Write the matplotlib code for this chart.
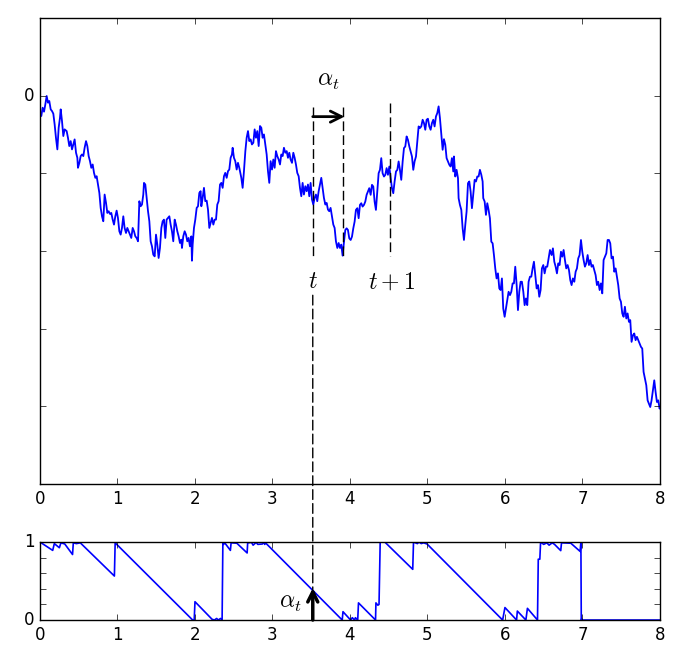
import matplotlib
matplotlib.use("Agg")
import matplotlib.pyplot as plt
from matplotlib.patches import ConnectionPatch

plt.style.use('classic')

# path
path_x = [0.0, 0.017, 0.034, 0.052, 0.069, 0.086, 0.103, 0.120, 0.138, 0.155, 0.172,
          0.189, 0.206, 0.224, 0.241, 0.258, 0.267, 0.284, 0.301, 0.318, 0.344,
          0.361, 0.378, 0.396, 0.413, 0.430, 0.447, 0.465, 0.482, 0.490, 0.508,
          0.525, 0.542, 0.559, 0.576, 0.594, 0.611, 0.628, 0.645, 0.662, 0.680,
          0.697, 0.714, 0.731, 0.748, 0.766, 0.783, 0.800, 0.817, 0.834, 0.852,
          0.869, 0.886, 0.903, 0.920, 0.938, 0.955, 0.972, 0.989, 1.006, 1.024,
          1.041, 1.058, 1.075, 1.092, 1.110, 1.127, 1.144, 1.161, 1.178, 1.196,
          1.213, 1.230, 1.247, 1.265, 1.282, 1.299, 1.316, 1.333, 1.342,
          1.359, 1.376, 1.394, 1.411, 1.428, 1.445, 1.462, 1.480, 1.497, 1.514,
          1.531, 1.548, 1.566, 1.583, 1.600, 1.617, 1.634, 1.652, 1.669, 1.686,
          1.703, 1.720, 1.738, 1.755, 1.772, 1.789, 1.806, 1.824, 1.832, 1.849,
          1.867, 1.884, 1.901, 1.918, 1.935, 1.953, 1.961, 1.970, 1.987, 2.004,
          2.022, 2.039, 2.056, 2.073, 2.082, 2.099, 2.116, 2.133, 2.151, 2.168,
          2.185, 2.202, 2.219, 2.237, 2.254, 2.271, 2.288, 2.305, 2.323, 2.340,
          2.357, 2.374, 2.391, 2.409, 2.426, 2.443, 2.460, 2.477, 2.486, 2.503,
          2.520, 2.538, 2.555, 2.572,
          2.598, 2.615, 2.632, 2.650, 2.667, 2.684, 2.701, 2.718, 2.735, 2.753,
          2.770, 2.787, 2.804, 2.822, 2.839, 2.856, 2.873, 2.890, 2.908, 2.925,
          2.942, 2.959, 2.976, 2.994, 3.011, 3.028, 3.045, 3.062, 3.080, 3.097,
          3.114, 3.131, 3.148, 3.166, 3.183, 3.200, 3.217, 3.234, 3.252, 3.269,
          3.286, 3.303, 3.320, 3.338, 3.355, 3.372, 3.389, 3.406, 3.424, 3.441,
          3.458, 3.475, 3.492, 3.510, 3.527, 3.544, 3.561, 3.578, 3.596, 3.613,
          3.630, 3.647, 3.664, 3.682, 3.699, 3.716, 3.733, 3.750, 3.768, 3.785,
          3.802, 3.819, 3.837, 3.854, 3.871, 3.888, 3.905,
          3.923, 3.940, 3.957, 3.974, 3.991, 4.009, 4.026, 4.043, 4.060, 4.077,
          4.095, 4.112, 4.129, 4.146, 4.163, 4.181, 4.198, 4.215, 4.232, 4.249,
          4.267, 4.284, 4.301, 4.318, 4.335, 4.353, 4.370, 4.387, 4.404, 4.421,
          4.439, 4.456, 4.473, 4.490, 4.508, 4.525, 4.542, 4.559, 4.576, 4.594,
          4.611, 4.628, 4.645, 4.662, 4.680, 4.697, 4.714, 4.731, 4.748, 4.766,
          4.783, 4.800, 4.817, 4.834, 4.852, 4.869, 4.886, 4.903, 4.920, 4.938,
          4.955, 4.972, 4.989, 5.006, 5.024, 5.041, 5.058, 5.075, 5.092, 5.110,
          5.127, 5.144, 5.161, 5.178, 5.196, 5.213,
          5.230, 5.247, 5.264, 5.282, 5.299, 5.316, 5.333, 5.342, 5.359, 5.376,
          5.394, 5.402, 5.419, 5.437, 5.454, 5.471, 5.488, 5.505, 5.523, 5.540,
          5.557, 5.574, 5.591, 5.609, 5.626, 5.643, 5.660, 5.677, 5.695, 5.712,
          5.720, 5.738, 5.755, 5.772, 5.789, 5.806, 5.824, 5.841, 5.858, 5.875,
          5.892, 5.910, 5.927, 5.944, 5.961, 5.978, 5.996, 6.013, 6.030, 6.047,
          6.065, 6.082, 6.099, 6.116, 6.133, 6.151, 6.168, 6.185, 6.202, 6.219,
          6.237, 6.254, 6.271, 6.288, 6.305, 6.323, 6.340, 6.357, 6.374, 6.391,
          6.409, 6.426, 6.443, 6.460, 6.477, 6.495, 6.512, 6.529, 6.546, 6.563,
          6.581,
          6.602, 6.619, 6.637, 6.654, 6.671, 6.688, 6.705, 6.723, 6.740, 6.757,
          6.774, 6.791, 6.809, 6.826, 6.843, 6.860, 6.877, 6.895, 6.912, 6.929,
          6.946, 6.963, 6.981, 6.998, 7.015, 7.032, 7.049, 7.067, 7.084, 7.101,
          7.118, 7.135, 7.153, 7.170, 7.187, 7.204, 7.222, 7.239, 7.256, 7.273,
          7.290, 7.308, 7.325, 7.342, 7.359, 7.376, 7.394, 7.411, 7.428, 7.445,
          7.462, 7.480, 7.497, 7.514, 7.531, 7.548, 7.566, 7.583, 7.600, 7.617,
          7.634, 7.652, 7.669, 7.686, 7.703, 7.720, 7.738, 7.755, 7.772, 7.789,
          7.806, 7.824, 7.841, 7.858, 7.875, 7.892, 7.910, 7.927, 7.944, 7.961,
          7.978, 7.996, 8.0]
path_y = [-0.24, -0.262, -0.155, -0.206, -0.112, -0.004, -0.090, -0.069, -0.176, -0.198, -0.232,
          -0.370, -0.542, -0.692, -0.413, -0.284, -0.176, -0.327, -0.520, -0.434, -0.456,
          -0.542, -0.649, -0.585, -0.692, -0.628, -0.563, -0.735, -0.800, -0.929, -0.865,
          -0.778, -0.757, -0.778, -0.671, -0.585, -0.649, -0.778, -0.843, -0.929, -0.886,
          -0.994, -1.058, -1.037, -1.144, -1.252, -1.445, -1.553, -1.617, -1.273, -1.381,
          -1.510, -1.488, -1.523, -1.510, -1.596, -1.660, -1.553, -1.480, -1.574, -1.746,
          -1.789, -1.703, -1.553, -1.703, -1.768, -1.703, -1.746, -1.789, -1.832, -1.703,
          -1.746, -1.811, -1.832, -1.875, -1.359, -1.424, -1.402, -1.273, -1.123,
          -1.144, -1.316, -1.488, -1.617, -1.875, -1.940, -2.047, -2.069, -1.789, -1.918,
          -2.090, -1.961, -1.703, -1.617, -1.596, -1.832, -1.596, -1.574, -1.553, -1.660,
          -1.746, -1.875, -1.596, -1.660, -1.746, -1.811, -1.897, -1.854, -1.961, -1.811,
          -1.746, -1.789, -1.875, -1.832, -1.940, -1.811, -2.125, -1.918, -1.703, -1.596,
          -1.445, -1.424, -1.252, -1.230, -1.424, -1.316, -1.187, -1.359, -1.351, -1.467,
          -1.703, -1.639, -1.574, -1.660, -1.596, -1.596, -1.402, -1.359, -1.144, -1.123,
          -1.187, -1.037, -0.994, -1.058, -0.972, -0.951, -0.800, -0.757, -0.671, -0.800,
          -0.843, -0.951, -0.865, -0.929,
          -1.058, -1.187, -0.972, -0.714, -0.542, -0.456, -0.585, -0.563, -0.628, -0.606,
          -0.434, -0.542, -0.456, -0.649, -0.391, -0.413, -0.542, -0.499, -0.628, -0.757,
          -0.972, -1.123, -0.843, -0.951, -0.822, -0.929, -0.714, -0.778, -0.822, -0.886,
          -0.757, -0.778, -0.671, -0.735, -0.714, -0.800, -0.735, -0.822, -0.865, -0.735,
          -0.800, -0.886, -0.994, -1.037, -1.187, -1.295, -1.123, -1.273, -1.166, -1.230,
          -1.144, -1.295, -1.123, -1.338, -1.402, -1.316, -1.273, -1.359, -1.230, -1.144,
          -1.058, -1.187, -1.316, -1.402, -1.381, -1.467, -1.488, -1.445, -1.553, -1.660,
          -1.703, -1.875, -1.961, -1.897, -1.961, -1.918, -2.060,
          -1.880, -1.729, -1.708, -1.729, -1.837, -1.858, -1.815, -1.708, -1.622, -1.471,
          -1.449, -1.578, -1.406, -1.385, -1.428, -1.406, -1.363, -1.277, -1.234, -1.191,
          -1.277, -1.148, -1.170, -1.363, -1.471, -1.234, -0.998, -0.955, -0.804, -0.998,
          -1.041, -1.019, -0.933, -1.019, -0.912, -1.062, -1.191, -1.256, -1.105, -0.976,
          -0.955, -0.847, -0.955, -1.084, -0.847, -0.675, -0.654, -0.525, -0.568, -0.654,
          -0.718, -0.783, -0.955, -0.847, -0.783, -0.589, -0.396, -0.417, -0.396, -0.310,
          -0.353, -0.439, -0.310, -0.297, -0.396, -0.439, -0.353, -0.310, -0.396, -0.267,
          -0.224, -0.138, -0.288, -0.482, -0.697, -0.560,
          -0.632, -0.804, -0.847, -0.890, -0.912, -0.804, -0.976, -0.783, -1.041, -0.955,
          -1.062, -1.320, -1.406, -1.471, -1.708, -1.858, -1.665, -1.492, -1.127, -1.105,
          -1.234, -1.449, -1.277, -1.084, -1.105, -1.041, -1.041, -0.955, -1.019, -1.105,
          -1.320, -1.363, -1.535, -1.385, -1.471, -1.578, -1.880, -1.901, -2.052, -2.224,
          -2.353, -2.288, -2.482, -2.503, -2.353, -2.740, -2.847, -2.740, -2.632, -2.525,
          -2.568, -2.525, -2.417, -2.417, -2.202, -2.439, -2.761, -2.525, -2.396, -2.396,
          -2.525, -2.697, -2.611, -2.697, -2.396, -2.331, -2.331, -2.224, -2.138, -2.310,
          -2.482, -2.439, -2.589, -2.503, -2.224, -2.181, -2.288, -2.202, -2.202, -2.095,
          -1.987,
          -2.052, -1.966, -2.138, -2.202, -2.288, -2.159, -2.181, -2.009, -2.073, -1.987,
          -2.116, -2.224, -2.181, -2.245, -2.374, -2.439, -2.353, -2.396, -2.267, -2.224,
          -2.095, -2.052, -1.858, -2.009, -2.116, -2.202, -2.159, -2.052, -2.181, -2.116,
          -2.202, -2.181, -2.245, -2.310, -2.439, -2.396, -2.503, -2.417, -2.546, -2.116,
          -2.073, -2.030, -1.858, -1.858, -1.901, -2.095, -2.073, -2.267, -2.224, -2.331,
          -2.439, -2.611, -2.654, -2.804, -2.847, -2.718, -2.869, -2.804, -2.912, -2.890,
          -3.170, -3.084, -3.062, -3.148, -3.105, -3.148, -3.191, -3.234, -3.256, -3.557,
          -3.643, -3.729, -3.923, -3.966, -4.009, -3.923, -3.794, -3.665, -3.815, -3.944,
          -3.923, -4.030, -4.009]

# alpha_t
alpha_x = [0.0, 0.164, 0.185, 0.25, 0.27, 0.32, 0.42, 0.43, 0.47, 0.52, 0.96, 0.97,
           1.97, 1.99, 2.0, 2.22, 2.25, 2.28, 2.30, 2.33, 2.35, 2.36, 2.37, 2.38,
           2.457, 2.466, 2.54, 2.673, 2.68, 2.73, 2.75, 2.79, 2.81, 2.87, 2.89,
           2.90, 2.91, 3.90, 3.91, 3.99, 4.01, 4.03, 4.06, 4.07, 4.10, 4.11, 4.33,
           4.335, 4.36, 4.375, 4.39, 4.45, 4.81, 4.82, 4.87, 4.89, 4.92, 4.95,
           4.995, 5.97, 6.0, 6.15, 6.16, 6.27, 6.29, 6.42, 6.43, 6.45, 6.46, 6.50,
           6.54, 6.57, 6.61, 6.64, 6.72, 6.73, 6.85, 6.97, 6.98, 6.985, 6.99,
           7.0, 8.0]
alpha_y = [1.0, 0.893, 0.98, 0.927, 0.99, 0.975, 0.84, 0.99, 0.98, 0.99, 0.564, 0.99,
           0.0, 0.0, 0.235, 0.01, 0.0, 0.02, 0.0, 0.02, 0.0, 1.0, 0.97, 0.995,
           0.893, 0.99, 0.985, 0.86, 0.99, 0.995, 0.96, 0.995, 0.97, 0.975, 0.995,
           0.97, 0.99, 0.0, 0.107, 0.02, 0.0, 0.03, 0.0, 0.03, 0.0, 0.22, 0.0,
           0.22, 0.19, 0.2, 1.0, 1.0, 0.65, 1.0, 0.98, 1.0, 0.98, 0.99,
           0.975, 0.0, 0.16, 0.0, 0.115, 0.0, 0.15, 0.0, 0.78, 0.78, 1.0, 0.97,
           0.99, 0.96, 0.99, 0.97, 0.89, 0.99, 0.985, 0.88, 1.0, 0.0, 0.015,
           0.0, 0.0]

t = 3.52
alpha_t = 0.39
dash = (7, 3)

fig = plt.figure(figsize=(6.86, 6.62), facecolor='w')
ax1 = fig.add_axes([0.0583, 0.2689, 0.9037, 0.7039])
ax2 = fig.add_axes([0.0583, 0.0634, 0.9037, 0.1178])

ax1.plot(path_x, path_y, color='b', lw=1.3)
ax1.set_xlim(0, 8)
ax1.set_ylim(-5, 1)
ax1.set_yticks([0, -1, -2, -3, -4])
ax1.set_yticklabels(['0', '', '', '', ''])
ax1.set_xticks(range(9))

# window [t, t+1] and the argmin shift
ax1.plot([t, t], [-0.14, -2.06], color='k', lw=1, dashes=dash)
ax1.plot([t + alpha_t, t + alpha_t], [-0.14, -2.06], color='k', lw=1, dashes=dash)
ax1.plot([t + 1, t + 1], [-0.10, -2.06], color='k', lw=1, dashes=dash)
ax1.annotate('', xy=(t + alpha_t + 0.02, -0.27), xytext=(t, -0.27),
             arrowprops=dict(arrowstyle='->', lw=2, color='k',
                             shrinkA=0, shrinkB=0, mutation_scale=20))
ax1.text(t + alpha_t / 2, 0.2, r'$\alpha_t$', ha='center', va='center', fontsize=17)
ax1.text(t, -2.39, r'$t$', ha='center', va='center', fontsize=17)
ax1.text(t + 1.02, -2.39, r'$t+1$', ha='center', va='center', fontsize=17)

ax2.plot(alpha_x, alpha_y, color='b', lw=1.2)
ax2.set_xlim(0, 8)
ax2.set_ylim(0, 1)
ax2.set_yticks([0, 0.2, 0.4, 0.6, 0.8, 1.0])
ax2.set_yticklabels(['0', '', '', '', '', '1'])
ax2.set_xticks(range(9))
ax2.annotate('', xy=(t, alpha_t + 0.02), xytext=(t, 0),
             arrowprops=dict(arrowstyle='->', lw=2.5, color='k',
                             shrinkA=0, shrinkB=0, mutation_scale=18))
ax2.text(3.23, 0.23, r'$\alpha_t$', ha='center', va='center', fontsize=17)

con = ConnectionPatch(xyA=(t, -2.57), coordsA=ax1.transData,
                      xyB=(t, alpha_t), coordsB=ax2.transData,
                      linestyle=(0, dash), color='k', lw=1, zorder=5)
fig.add_artist(con)

fig.savefig('out.png', dpi=100, facecolor='w')
